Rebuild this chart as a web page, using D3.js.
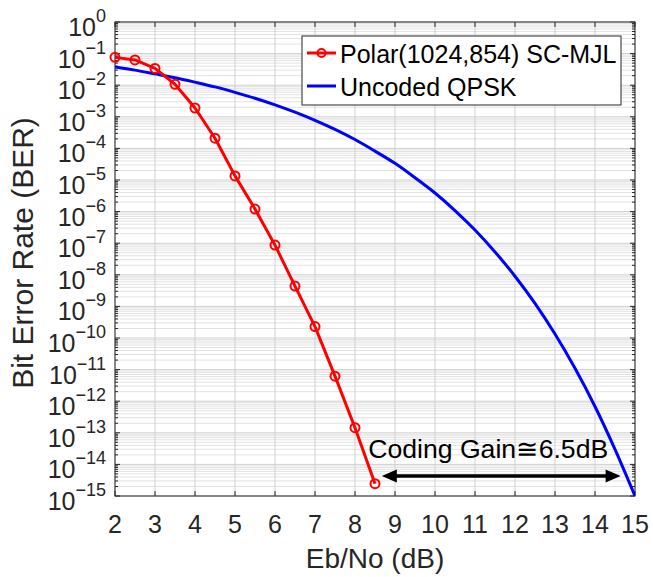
<!DOCTYPE html>
<html>
<head>
<meta charset="utf-8">
<script src="https://cdn.jsdelivr.net/npm/d3@7"></script>
<style>
  body { margin: 0; background: #fff; }
  svg { display: block; font-family: "Liberation Sans", Arial, sans-serif; }
</style>
</head>
<body>
<div id="chart"></div>
<script>
// Polar SC-MJL curve
const polarEbNo = [2, 2.5, 3, 3.5, 4, 4.5, 5, 5.5, 6, 6.5, 7, 7.5, 8, 8.5];
const polarBer = [7.6e-2, 6.3e-2, 3.4e-2, 1.07e-2, 1.9e-3, 2.1e-4, 1.35e-5, 1.2e-6, 8.7e-8, 4.4e-9, 2.3e-10, 6.2e-12, 1.45e-13, 2.45e-15];

// Uncoded QPSK curve
const qpskEbNo = [2, 2.5, 3, 3.5, 4, 4.5, 5, 5.5, 6, 6.5, 7, 7.5, 8, 8.5, 9, 9.5, 10, 10.5, 11, 11.5, 12, 12.5, 13, 13.5, 14, 14.5, 15];
const qpskBer = [3.75e-2, 3.0e-2, 2.29e-2, 1.73e-2, 1.25e-2, 8.85e-3, 5.95e-3, 3.87e-3, 2.39e-3, 1.4e-3, 7.73e-4, 4.0e-4, 1.91e-4, 8.2e-5, 3.36e-5, 1.18e-5, 3.87e-6, 1.08e-6, 2.61e-7, 5.3e-8, 9.0e-9, 1.24e-9, 1.33e-10, 1.1e-11, 6.8e-13, 3.0e-14, 1.0e-15];

const xTicks = [2, 3, 4, 5, 6, 7, 8, 9, 10, 11, 12, 13, 14, 15];
const yExponents = [-15, -14, -13, -12, -11, -10, -9, -8, -7, -6, -5, -4, -3, -2, -1, 0];
const seriesNames = ["Polar(1024,854) SC-MJL", "Uncoded QPSK"];

// annotation: double arrow + label
const gainArrowX = [8.67, 14.64];
const gainArrowY = 4.3e-15;
const gainLabel = "Coding Gain\u22456.5dB";
const gainLabelAt = [11.33, 1.55e-14];

(() => {
  const width = 653, height = 577;
  const margin = { top: 22, right: 18, bottom: 81, left: 115 };
  const axisColor = "#262626";

  const svg = d3.select("#chart").append("svg")
    .attr("width", width)
    .attr("height", height);

  const x = d3.scaleLinear().domain([2, 15]).range([margin.left, width - margin.right]);
  const y = d3.scaleLog().domain([1e-15, 1]).range([height - margin.bottom, margin.top]);

  const [x0, x1] = x.range();
  const [y0, y1] = y.range(); // y0 bottom, y1 top

  svg.append("defs").append("clipPath").attr("id", "plot-clip")
    .append("rect")
    .attr("x", x0).attr("y", y1)
    .attr("width", x1 - x0).attr("height", y0 - y1);

  // minor values for log axis
  const minorY = [];
  yExponents.slice(0, -1).forEach(e => {
    for (let k = 2; k <= 9; k++) minorY.push(k * Math.pow(10, e));
  });
  const majorY = yExponents.map(e => Math.pow(10, e));

  // grid
  const grid = svg.append("g");
  grid.selectAll(".minor-y")
    .data(minorY)
    .join("line")
    .attr("x1", x0).attr("x2", x1)
    .attr("y1", d => y(d)).attr("y2", d => y(d))
    .attr("stroke", "#e2e2e2")
    .attr("stroke-width", 1);

  grid.selectAll(".major-y")
    .data(majorY)
    .join("line")
    .attr("x1", x0).attr("x2", x1)
    .attr("y1", d => y(d)).attr("y2", d => y(d))
    .attr("stroke", "#d0d0d0")
    .attr("stroke-width", 1);

  grid.selectAll(".major-x")
    .data(xTicks)
    .join("line")
    .attr("x1", d => x(d)).attr("x2", d => x(d))
    .attr("y1", y0).attr("y2", y1)
    .attr("stroke", "#d0d0d0")
    .attr("stroke-width", 1);

  // tick marks (inside, on all four sides)
  const ticks = svg.append("g").attr("stroke", axisColor).attr("stroke-width", 1);
  xTicks.forEach(v => {
    ticks.append("line").attr("x1", x(v)).attr("x2", x(v)).attr("y1", y0).attr("y2", y0 - 5);
    ticks.append("line").attr("x1", x(v)).attr("x2", x(v)).attr("y1", y1).attr("y2", y1 + 5);
  });
  majorY.forEach(v => {
    ticks.append("line").attr("x1", x0).attr("x2", x0 + 5).attr("y1", y(v)).attr("y2", y(v));
    ticks.append("line").attr("x1", x1).attr("x2", x1 - 5).attr("y1", y(v)).attr("y2", y(v));
  });
  minorY.forEach(v => {
    ticks.append("line").attr("x1", x0).attr("x2", x0 + 3).attr("y1", y(v)).attr("y2", y(v));
    ticks.append("line").attr("x1", x1).attr("x2", x1 - 3).attr("y1", y(v)).attr("y2", y(v));
  });

  // axes box
  svg.append("rect")
    .attr("x", x0).attr("y", y1)
    .attr("width", x1 - x0).attr("height", y0 - y1)
    .attr("fill", "none")
    .attr("stroke", axisColor)
    .attr("stroke-width", 1);

  // x tick labels
  svg.append("g").selectAll("text")
    .data(xTicks)
    .join("text")
    .attr("x", d => x(d))
    .attr("y", y0 + 37)
    .attr("text-anchor", "middle")
    .attr("font-size", 25)
    .attr("fill", axisColor)
    .text(d => d);

  // y tick labels 10^n
  const yLabels = svg.append("g").selectAll("text")
    .data(yExponents)
    .join("text")
    .attr("x", x0 - 9)
    .attr("y", d => y(Math.pow(10, d)) + 14)
    .attr("text-anchor", "end")
    .attr("fill", axisColor);
  yLabels.append("tspan").attr("font-size", 25).text("10");
  yLabels.append("tspan").attr("font-size", 18).attr("dy", -14).text(d => d === 0 ? "0" : "\u2212" + (-d));

  // axis titles
  svg.append("text")
    .attr("x", (x0 + x1) / 2)
    .attr("y", 568)
    .attr("text-anchor", "middle")
    .attr("font-size", 28)
    .attr("fill", axisColor)
    .text("Eb/No (dB)");

  svg.append("text")
    .attr("transform", "translate(33,253) rotate(-90)")
    .attr("text-anchor", "middle")
    .attr("font-size", 30)
    .attr("fill", axisColor)
    .text("Bit Error Rate (BER)");

  // curves
  const plot = svg.append("g").attr("clip-path", "url(#plot-clip)");

  const qpsk = qpskEbNo.map((v, i) => [v, qpskBer[i]]);
  const polar = polarEbNo.map((v, i) => [v, polarBer[i]]);

  const smooth = d3.line()
    .x(d => x(d[0]))
    .y(d => y(d[1]))
    .curve(d3.curveMonotoneX);

  const straight = d3.line()
    .x(d => x(d[0]))
    .y(d => y(d[1]));

  plot.append("path")
    .datum(qpsk)
    .attr("fill", "none")
    .attr("stroke", "#0000ff")
    .attr("stroke-width", 3)
    .attr("d", smooth);

  svg.append("path")
    .datum(polar)
    .attr("fill", "none")
    .attr("stroke", "#ff0000")
    .attr("stroke-width", 3)
    .attr("stroke-linejoin", "round")
    .attr("d", straight);

  svg.append("g").selectAll("circle")
    .data(polar)
    .join("circle")
    .attr("cx", d => x(d[0]))
    .attr("cy", d => y(d[1]))
    .attr("r", 4.5)
    .attr("fill", "none")
    .attr("stroke", "#ff0000")
    .attr("stroke-width", 2);

  // coding gain annotation
  const ay = y(gainArrowY);
  const ax0 = x(gainArrowX[0]), ax1 = x(gainArrowX[1]);
  const head = 15, halfW = 6.5;
  svg.append("line")
    .attr("x1", ax0 + head - 2).attr("x2", ax1 - head + 2)
    .attr("y1", ay).attr("y2", ay)
    .attr("stroke", "#000")
    .attr("stroke-width", 3.5);
  svg.append("path")
    .attr("d", `M${ax0},${ay} L${ax0 + head},${ay - halfW} L${ax0 + head},${ay + halfW} Z`)
    .attr("fill", "#000");
  svg.append("path")
    .attr("d", `M${ax1},${ay} L${ax1 - head},${ay - halfW} L${ax1 - head},${ay + halfW} Z`)
    .attr("fill", "#000");

  svg.append("text")
    .attr("x", x(gainLabelAt[0]))
    .attr("y", y(gainLabelAt[1]))
    .attr("text-anchor", "middle")
    .attr("font-size", 26)
    .attr("textLength", 240)
    .attr("lengthAdjust", "spacingAndGlyphs")
    .attr("fill", "#000")
    .text(gainLabel);

  // legend
  const legend = svg.append("g").attr("transform", "translate(302,36)");
  legend.append("rect")
    .attr("width", 319).attr("height", 69)
    .attr("fill", "#fff")
    .attr("stroke", axisColor)
    .attr("stroke-width", 1);

  const legendItems = legend.selectAll(".item")
    .data(seriesNames)
    .join("g")
    .attr("transform", (_, i) => `translate(0,${17 + i * 33})`);

  legendItems.append("line")
    .attr("x1", 5).attr("x2", 34)
    .attr("stroke", (_, i) => i === 0 ? "#ff0000" : "#0000ff")
    .attr("stroke-width", 3);

  legendItems.filter((_, i) => i === 0).append("circle")
    .attr("cx", 19.5).attr("r", 4)
    .attr("fill", "none")
    .attr("stroke", "#ff0000")
    .attr("stroke-width", 2);

  legendItems.append("text")
    .attr("x", 38)
    .attr("y", 9.5)
    .attr("font-size", 25)
    .attr("fill", "#000")
    .text(d => d);
})();
</script>
</body>
</html>
